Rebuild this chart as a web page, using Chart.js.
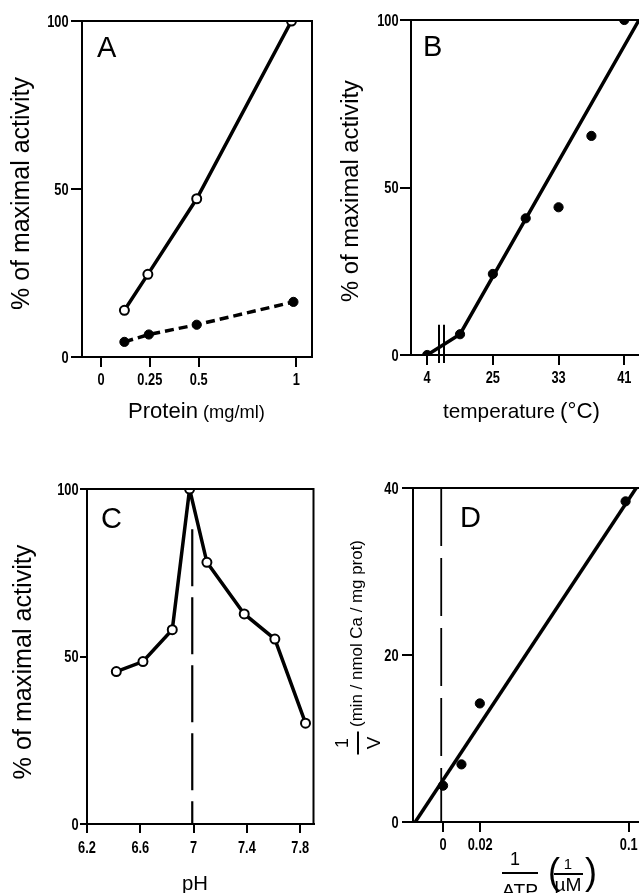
<!DOCTYPE html>
<html><head><meta charset="utf-8">
<script src="https://cdn.jsdelivr.net/npm/chart.js@4.4.1/dist/chart.umd.min.js"></script>
<style>
html,body{margin:0;padding:0;background:#fff;overflow:hidden;width:639px;height:893px;}
canvas{position:absolute;display:block;}
</style></head><body>
<canvas id="cA" width="320" height="440" style="left:0;top:0"></canvas>
<canvas id="cB" width="340" height="440" style="left:320px;top:0"></canvas>
<canvas id="cC" width="320" height="433" style="left:0;top:460px"></canvas>
<canvas id="cD" width="340" height="433" style="left:320px;top:460px"></canvas>
<script>
// ---------------- data ----------------
// Panel A: activity vs protein
const aProtein = [0.12, 0.24, 0.49, 0.975];
const aOpen = [13.9, 24.6, 47.1, 100];
const aProteinFilled = [0.12, 0.245, 0.49, 0.985];
const aFilled = [4.5, 6.7, 9.6, 16.4];
const aXTicks = [0, 0.25, 0.5, 1];
const aYTicks = [0, 50, 100];

// Panel B: activity vs temperature (broken axis below 25 °C)
const bTemp = [4, 21, 25, 29, 33, 37, 41];
const bAct = [0, 6.2, 24.2, 40.8, 44.1, 65.4, 100];
const bFitTemp = [4, 21, 42.8];
const bFitAct = [0, 6.2, 100];
const bXTicks = [4, 25, 33, 41];
const bYTicks = [0, 50, 100];

// Panel C: activity vs pH
const cPH = [6.42, 6.62, 6.84, 6.97, 7.1, 7.38, 7.61, 7.84];
const cAct = [45.5, 48.5, 58, 100, 78.1, 62.7, 55.2, 30.1];
const cOptimumPH = 6.99;
const cXTicks = [6.2, 6.6, 7, 7.4, 7.8];
const cYTicks = [0, 50, 100];

// Panel D: Lineweaver-Burk plot
const dInvATP = [0, 0.0099, 0.0198, 0.0983];
const dInvV = [4.35, 6.9, 14.2, 38.4];
const dFitX = [-0.015, 0.104];
const dFitY = [0, 40];
const dXTicks = [0, 0.02, 0.1];
const dYTicks = [0, 20, 40];

// ---------------- helpers ----------------
const TITLE_FAMILY = "'Liberation Sans',Arial,sans-serif";
const TICK_SQUEEZE = 0.8;           // narrow tick-label face
const B_LOW_POS = 17;               // axis position of the 4 °C point (broken axis)
const bPos = t => (t < 10 ? B_LOW_POS : t);
const B_BREAK = [18.47, 19.08];

const pts = (xs, ys, f = v => v) => xs.map((x, i) => ({x: f(x), y: ys[i]}));

function xAxis(min, max, ticks, height, tl, fmt) {
  return {type: 'linear', position: 'bottom', min, max,
    afterBuildTicks: s => { s.ticks = ticks.map(v => ({value: v})); },
    afterFit: s => { s.height = height; },
    border: {display: true, color: '#000', width: 2},
    grid: {drawOnChartArea: false, drawTicks: true, tickLength: tl, color: '#000', lineWidth: 2},
    ticks: {display: false, autoSkip: false, maxRotation: 0, callback: fmt || (v => String(v))}
  };
}
function yAxis(min, max, ticks, width, tl) {
  return {type: 'linear', position: 'left', min, max,
    afterBuildTicks: s => { s.ticks = ticks.map(v => ({value: v})); },
    afterFit: s => { s.width = width; },
    border: {display: true, color: '#000', width: 2},
    grid: {drawOnChartArea: false, drawTicks: true, tickLength: tl, color: '#000', lineWidth: 2},
    ticks: {display: false, autoSkip: false, callback: v => String(v)}
  };
}
// tick labels come from the scale's own ticks, drawn in a narrow face
function tickLabels(c, ch, xBase, yRight) {
  const xs = ch.scales.x, ys = ch.scales.y;
  c.font = 'bold 16px ' + TITLE_FAMILY; c.textBaseline = 'alphabetic';
  xs.ticks.forEach(t => {
    c.save(); c.translate(xs.getPixelForValue(t.value), xBase); c.scale(TICK_SQUEEZE, 1);
    c.textAlign = 'center'; c.fillText(t.label, 0, 0); c.restore();
  });
  ys.ticks.forEach(t => {
    c.save(); c.translate(yRight, ys.getPixelForValue(t.value) + 5.8); c.scale(TICK_SQUEEZE, 1);
    c.textAlign = 'right'; c.fillText(t.label, 0, 0); c.restore();
  });
}
function fitFont(ctx, text, width, family) {
  ctx.font = '100px ' + family;
  const s = 100 * width / ctx.measureText(text).width;
  ctx.font = s + 'px ' + family;
  return s;
}
function hText(ctx, text, left, base, width, family = TITLE_FAMILY) {
  fitFont(ctx, text, width, family);
  ctx.textAlign = 'left'; ctx.textBaseline = 'alphabetic';
  ctx.fillText(text, left, base);
}
function vText(ctx, text, cy, baseX, width, family = TITLE_FAMILY) {
  ctx.save();
  ctx.translate(baseX, cy); ctx.rotate(-Math.PI / 2);
  fitFont(ctx, text, width, family);
  ctx.textAlign = 'center'; ctx.textBaseline = 'alphabetic';
  ctx.fillText(text, 0, 0);
  ctx.restore();
}
function letter(ctx, t, left, base) {
  ctx.font = '29px ' + TITLE_FAMILY; ctx.textAlign = 'left'; ctx.textBaseline = 'alphabetic';
  ctx.fillText(t, left, base);
}
function frame(ctx, a) {
  ctx.strokeStyle = '#000'; ctx.lineWidth = 2;
  ctx.beginPath(); ctx.moveTo(a.left, a.top); ctx.lineTo(a.right, a.top); ctx.lineTo(a.right, a.bottom); ctx.stroke();
}
const deco = fn => ({id: 'deco', afterDraw(chart) { const c = chart.ctx; c.save(); c.fillStyle = '#000'; fn(c, chart); c.restore(); }});

const openPt = {pointRadius: 4.5, pointBackgroundColor: '#fff', pointBorderColor: '#000', pointBorderWidth: 2};
const fillPt = {pointRadius: 4.6, pointBackgroundColor: '#000', pointBorderColor: '#000', pointBorderWidth: 1};
const base = (scales, padding) => ({
  responsive: false, animation: false, events: [],
  layout: {padding},
  plugins: {legend: {display: false}, tooltip: {enabled: false}},
  scales
});

// ---------------- Panel A ----------------
new Chart(document.getElementById('cA'), {
  type: 'scatter',
  data: {datasets: [
    {data: pts(aProtein, aOpen), showLine: true, borderColor: '#000', borderWidth: 3.5, ...openPt},
    {data: pts(aProteinFilled, aFilled), showLine: true, borderColor: '#000', borderWidth: 3.5, borderDash: [9, 5], ...fillPt}
  ]},
  options: base({x: xAxis(-0.097, 1.08, aXTicks, 83, 10), y: yAxis(0, 100, aYTicks, 82, 11)},
    {top: 21, right: 8, left: 0, bottom: 0}),
  plugins: [deco((c, ch) => {
    frame(c, ch.chartArea);
    tickLabels(c, ch, 385, 68.5);
    letter(c, 'A', 97, 57);
    vText(c, '% of maximal activity', 193.5, 29, 233);
    hText(c, 'Protein', 128, 418, 70);
    hText(c, '(mg/ml)', 203, 418, 62);
  })]
});

// ---------------- Panel B ----------------
new Chart(document.getElementById('cB'), {
  type: 'scatter',
  data: {datasets: [
    {data: pts(bTemp, bAct, bPos), showLine: false, ...fillPt},
    {data: pts(bFitTemp, bFitAct, bPos), showLine: true, borderColor: '#000', borderWidth: 3.5, pointRadius: 0}
  ]},
  options: base({x: xAxis(15.03, 43.04, bXTicks.map(bPos), 85, 10, v => String(v === B_LOW_POS ? 4 : v)),
                 y: yAxis(0, 100, bYTicks, 91, 11)},
    {top: 20, right: 19, left: 0, bottom: 0}),
  plugins: [deco((c, ch) => {
    frame(c, ch.chartArea);
    const xs = ch.scales.x, ys = ch.scales.y;
    c.strokeStyle = '#000'; c.lineWidth = 2;
    B_BREAK.forEach(p => {
      const x = Math.round(xs.getPixelForValue(p));
      c.beginPath(); c.moveTo(x, ys.getPixelForValue(9)); c.lineTo(x, ch.chartArea.bottom + 8); c.stroke();
    });
    tickLabels(c, ch, 383, 78.5);
    letter(c, 'B', 103, 56);
    vText(c, '% of maximal activity', 191, 38, 222);
    hText(c, 'temperature', 123, 418, 112);
    hText(c, '(°C)', 240, 418, 40);
  })]
});

// ---------------- Panel C ----------------
new Chart(document.getElementById('cC'), {
  type: 'scatter',
  data: {datasets: [
    {data: pts(cPH, cAct), showLine: true, borderColor: '#000', borderWidth: 3.5, ...openPt},
    {data: [{x: cOptimumPH, y: 88}, {x: cOptimumPH, y: 0}], showLine: true, borderColor: '#000', borderWidth: 2.2, borderDash: [57, 11], pointRadius: 0}
  ]},
  options: base({x: xAxis(6.2, 7.9, cXTicks, 69, 9), y: yAxis(0, 100, cYTicks, 87, 7)},
    {top: 29, right: 5, left: 0, bottom: 0}),
  plugins: [deco((c, ch) => {
    frame(c, ch.chartArea);
    tickLabels(c, ch, 393, 78.5);
    letter(c, 'C', 101, 68);
    vText(c, '% of maximal activity', 202, 31, 235);
    hText(c, 'pH', 182, 430, 26);
  })]
});

// ---------------- Panel D ----------------
new Chart(document.getElementById('cD'), {
  type: 'scatter',
  data: {datasets: [
    {data: pts(dInvATP, dInvV), showLine: false, ...fillPt},
    {data: pts(dFitX, dFitY), showLine: true, borderColor: '#000', borderWidth: 3.5, pointRadius: 0},
    {data: [{x: -0.001, y: 40}, {x: -0.001, y: 0}], showLine: true, borderColor: '#000', borderWidth: 1.8, borderDash: [58, 12], pointRadius: 0}
  ]},
  options: base({x: xAxis(-0.0162, 0.1066, dXTicks, 71, 10), y: yAxis(0, 40, dYTicks, 93, 11)},
    {top: 28, right: 19, left: 0, bottom: 0}),
  plugins: [deco((c, ch) => {
    frame(c, ch.chartArea);
    tickLabels(c, ch, 390, 78.5);
    letter(c, 'D', 140, 67);
    // y title: 1/V (min / nmol Ca / mg prot)
    c.save();
    c.translate(38, 283); c.rotate(-Math.PI / 2);
    c.textAlign = 'center'; c.textBaseline = 'alphabetic';
    c.font = '18px ' + TITLE_FAMILY; c.fillText('1', 0, -10);
    c.font = '19px ' + TITLE_FAMILY; c.fillText('V', 0, 22);
    c.fillRect(-11.5, -1, 23, 2);
    c.restore();
    vText(c, '(min / nmol Ca / mg prot)', 173.5, 42, 187);
    // x title: 1/ATP (1/µM)
    c.textAlign = 'center'; c.textBaseline = 'alphabetic';
    c.font = '18px ' + TITLE_FAMILY; c.fillText('1', 195, 405);
    c.fillRect(182, 412, 36, 2);
    fitFont(c, 'ATP', 36, TITLE_FAMILY); c.fillText('ATP', 200, 437);
    c.font = '36px ' + TITLE_FAMILY;
    c.textAlign = 'left'; c.fillText('(', 228, 424);
    c.textAlign = 'right'; c.fillText(')', 277, 424);
    c.textAlign = 'center';
    c.font = '15px ' + TITLE_FAMILY; c.fillText('1', 248, 409);
    c.fillRect(234, 413, 29, 2);
    fitFont(c, 'µM', 27, TITLE_FAMILY); c.fillText('µM', 248, 431);
  })]
});
</script>
</body></html>
